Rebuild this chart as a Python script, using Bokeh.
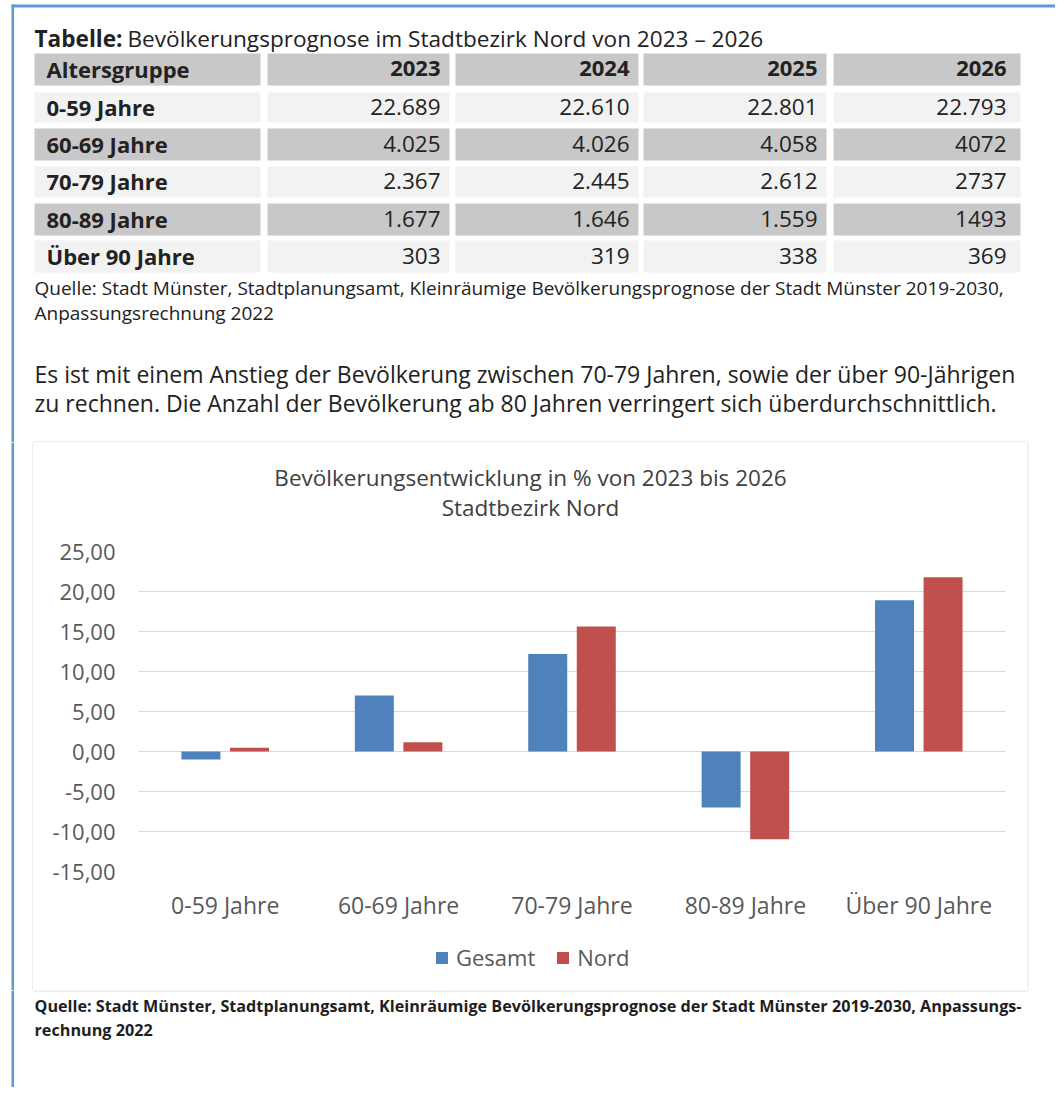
from bokeh.plotting import figure
from bokeh.layouts import column, row
from bokeh.models import Range1d, FactorRange, Legend, LegendItem, ColumnDataSource, FixedTicker
from bokeh.core.properties import value
from bokeh.transform import dodge
from bokeh.embed import file_html
from bokeh.resources import INLINE

FONT = "Open Sans"

# ---------------- data ----------------
age_groups = ["0-59 Jahre", "60-69 Jahre", "70-79 Jahre", "80-89 Jahre", "Über 90 Jahre"]
years = ["2023", "2024", "2025", "2026"]
t2023 = ["22.689", "4.025", "2.367", "1.677", "303"]
t2024 = ["22.610", "4.026", "2.445", "1.646", "319"]
t2025 = ["22.801", "4.058", "2.612", "1.559", "338"]
t2026 = ["22.793", "4072", "2737", "1493", "369"]
gesamt = [-1.0, 7.0, 12.2, -7.0, 18.9]
nord = [0.46, 1.17, 15.63, -10.97, 21.78]
y_ticks = [-15, -10, -5, 0, 5, 10, 15, 20, 25]
series = ["Gesamt", "Nord"]

table_title_bold = "Tabelle:"
table_title = "Bevölkerungsprognose im Stadtbezirk Nord von 2023 – 2026"
table_head = "Altersgruppe"
table_source = ["Quelle: Stadt Münster, Stadtplanungsamt, Kleinräumige Bevölkerungsprognose der Stadt Münster 2019-2030,",
                "Anpassungsrechnung 2022"]
paragraph = ["Es ist mit einem Anstieg der Bevölkerung zwischen 70-79 Jahren, sowie der über 90-Jährigen",
             "zu rechnen. Die Anzahl der Bevölkerung ab 80 Jahren verringert sich überdurchschnittlich."]
chart_title = ["Bevölkerungsentwicklung in % von 2023 bis 2026", "Stadtbezirk Nord"]
chart_source = ["Quelle: Stadt Münster, Stadtplanungsamt, Kleinräumige Bevölkerungsprognose der Stadt Münster 2019-2030, Anpassungs-",
                "rechnung 2022"]

# ---------------- styles ----------------
FRAME_BLUE = "#5b9bd5"
BOX_GRAY = "#d9d9d9"
HEAD_GRAY = "#c8c8c8"
LIGHT_GRAY = "#f2f2f2"
TXT = "#222222"
BLUE = "#4f81bd"
RED = "#c0504d"
W, H = 1055, 1087
FRAME_L, FRAME_R = 138, 1005   # chart plot area (page pixels)


def canvas(x0, x1, y0, y1, width=None, xr=None):
    p = figure(width=width or (x1 - x0), height=y1 - y0,
               x_range=Range1d(*(xr or (x0, x1))), y_range=Range1d(y1, y0),
               x_axis_type=None, y_axis_type=None,
               output_backend="svg", toolbar_location=None, min_border=0)
    p.grid.visible = False
    p.outline_line_color = None
    p.background_fill_color = "white"
    p.border_fill_color = "white"
    return p


def txt(p, x, y, s, size, align="left", bold=False, color=TXT):
    p.text(x=[x], y=[y], text=[s], text_font=value(FONT), text_font_size=size,
           text_align=align, text_baseline="middle", text_color=color,
           text_font_style="bold" if bold else "normal")


# ---------------- top part: frame, table, paragraph ----------------
top = canvas(0, W, 0, 442)
top.quad(left=[11], right=[W], top=[4], bottom=[7], color=FRAME_BLUE, line_color=None)
top.quad(left=[11], right=[13.5], top=[4], bottom=[442], color=FRAME_BLUE, line_color=None)

txt(top, 34, 38, table_title_bold, "22.6px", bold=True)
txt(top, 127, 38, table_title, "22.6px")

col_left = [34, 267, 455, 643, 833]
col_right = [260, 449, 638, 826, 1020]
num_x = [440, 629, 817, 1006]
row_top = [53, 92, 128, 166, 203, 240]
row_bot = [85, 122, 160, 197, 235, 272]
row_fill = [HEAD_GRAY, LIGHT_GRAY, HEAD_GRAY, LIGHT_GRAY, HEAD_GRAY, LIGHT_GRAY]

for r in range(6):
    top.quad(left=col_left, right=col_right, top=[row_top[r]] * 5, bottom=[row_bot[r]] * 5,
             color=row_fill[r], line_color=None)

cols = [t2023, t2024, t2025, t2026]
yc = [(a + b) / 2 - 1 for a, b in zip(row_top, row_bot)]
txt(top, 46, yc[0], table_head, "22px", bold=True)
for j, yr in enumerate(years):
    txt(top, num_x[j], yc[0], yr, "22px", align="right", bold=True)
for i, g in enumerate(age_groups):
    txt(top, 46, yc[i + 1], g, "22px", bold=True)
    for j in range(4):
        txt(top, num_x[j], yc[i + 1], cols[j][i], "22.5px", align="right")

txt(top, 34, 287, table_source[0], "19px")
txt(top, 34, 312, table_source[1], "19px")
txt(top, 34, 373, paragraph[0], "23px")
txt(top, 34, 402, paragraph[1], "23px")

# chart box top edge
top.segment(x0=[33], x1=[1027.5], y0=[441.5], y1=[441.5], line_color=BOX_GRAY, line_width=1)

# ---------------- middle: chart box ----------------
left = canvas(0, 33, 442, 990)
left.quad(left=[11], right=[13.5], top=[442], bottom=[990], color=FRAME_BLUE, line_color=None)
left.segment(x0=[32.5], x1=[32.5], y0=[442], y1=[990], line_color=BOX_GRAY, line_width=1)

right = canvas(1027, W, 442, 990)
right.segment(x0=[1027.5], x1=[1027.5], y0=[442], y1=[990], line_color=BOX_GRAY, line_width=1)

# column members share the chart's plot-area alignment, so their x ranges span that area
ctitle = canvas(33, 1027, 442, 525, xr=(FRAME_L, FRAME_R))
txt(ctitle, 530, 477, chart_title[0], "22.5px", align="center", color="#404040")
txt(ctitle, 530, 507, chart_title[1], "22.5px", align="center", color="#404040")

src = ColumnDataSource(dict(cat=age_groups, gesamt=gesamt, nord=nord))

chart = figure(width=994, height=410, x_range=FactorRange(*age_groups), y_range=Range1d(-15, 25),
               output_backend="svg", toolbar_location=None,
               min_border_left=FRAME_L - 33, min_border_right=1027 - FRAME_R,
               min_border_top=26, min_border_bottom=64)
chart.outline_line_color = None
chart.background_fill_color = "white"
chart.border_fill_color = "white"

r1 = chart.vbar(x=dodge("cat", -0.14, range=chart.x_range), top="gesamt", width=0.225,
                source=src, fill_color=BLUE, line_color=None)
r2 = chart.vbar(x=dodge("cat", 0.14, range=chart.x_range), top="nord", width=0.225,
                source=src, fill_color=RED, line_color=None)

chart.xgrid.visible = False
chart.ygrid.grid_line_color = BOX_GRAY
chart.ygrid.grid_line_width = 1

chart.yaxis.ticker = FixedTicker(ticks=y_ticks)
chart.yaxis.major_label_overrides = {t: f"{t:.2f}".replace(".", ",") for t in y_ticks}
for ax in (chart.xaxis[0], chart.yaxis[0]):
    ax.axis_line_color = None
    ax.major_tick_line_color = None
    ax.minor_tick_line_color = None
    ax.major_tick_in = 0
    ax.major_tick_out = 0
    ax.minor_tick_out = 0
    ax.major_label_text_font = FONT
    ax.major_label_text_color = "#595959"
chart.yaxis.major_label_text_font_size = "22px"
chart.xaxis.major_label_text_font_size = "23px"
chart.yaxis.major_label_standoff = 23
chart.xaxis.major_label_standoff = 17

# legend strip (own small canvas inside the chart box)
leg = canvas(33, 1027, 935, 990, xr=(FRAME_L, FRAME_R))
lr1 = leg.vbar(x=[0], top=[0], width=1, fill_color=BLUE, line_color=None)
lr2 = leg.vbar(x=[0], top=[0], width=1, fill_color=RED, line_color=None)
legend = Legend(items=[LegendItem(label=series[0], renderers=[lr1]),
                       LegendItem(label=series[1], renderers=[lr2])],
                location=(434 - FRAME_L, 18), orientation="horizontal",
                glyph_width=15, glyph_height=15, label_standoff=7, spacing=20,
                padding=0, margin=0, border_line_color=None, background_fill_alpha=0,
                label_text_font=FONT, label_text_font_size="22px", label_text_color="#595959")
leg.add_layout(legend)

# ---------------- bottom ----------------
bot = canvas(0, W, 990, H)
bot.quad(left=[11], right=[13.5], top=[990], bottom=[H], color=FRAME_BLUE, line_color=None)
bot.segment(x0=[33], x1=[1027.5], y0=[990.5], y1=[990.5], line_color=BOX_GRAY, line_width=1)
txt(bot, 34, 1005, chart_source[0], "16.2px", bold=True, color="#1f1f1f")
txt(bot, 34, 1029, chart_source[1], "16.2px", bold=True, color="#1f1f1f")

layout = column(top, row(left, column(ctitle, chart, leg), right), bot)
open("out.html", "w").write(file_html(layout, INLINE))
